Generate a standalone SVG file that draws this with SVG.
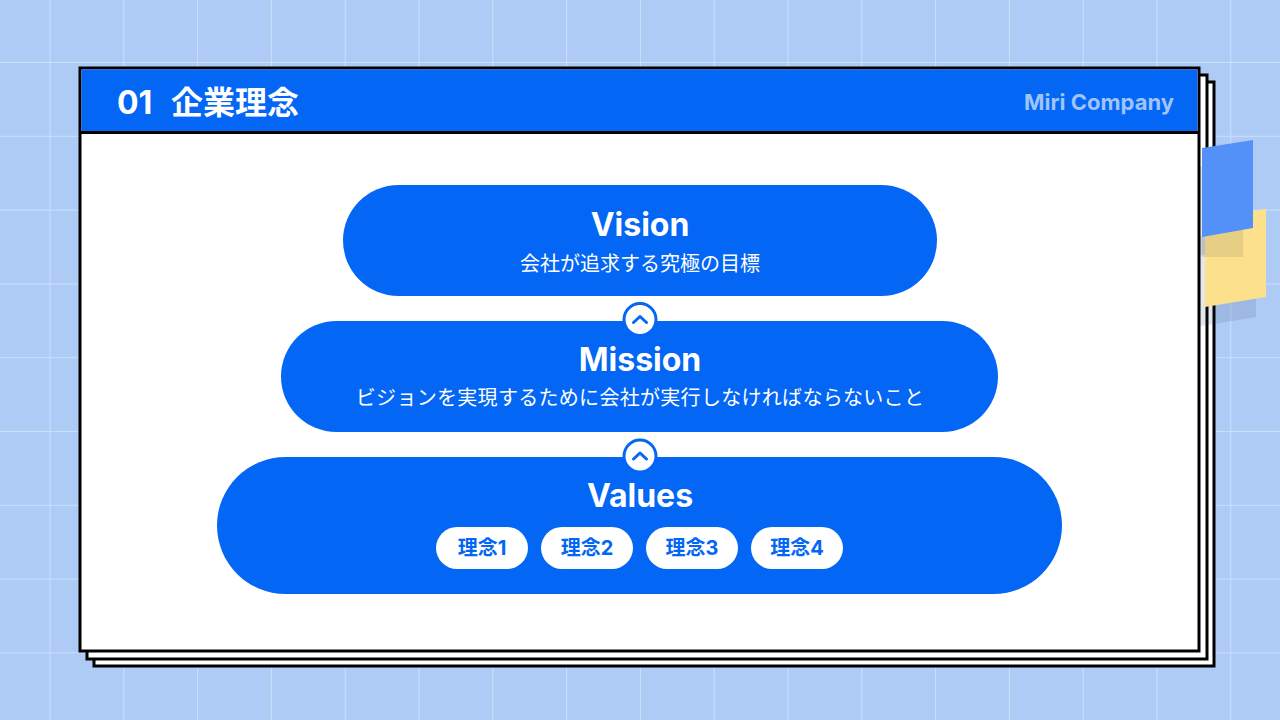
<svg xmlns="http://www.w3.org/2000/svg" width="1280" height="720" viewBox="0 0 1280 720">
  <defs>
    <pattern id="grid" x="49.5" y="62" width="73.8" height="73.8" patternUnits="userSpaceOnUse">
      <path d="M0 0 H73.8 M0 0 V73.8" stroke="#d6e6fb" stroke-width="1.5" fill="none"/>
    </pattern>
    <style>
      .card { fill: #ffffff; stroke: #000000; stroke-width: 3; }
      .pill { fill: #0366f5; }
      .title { font-family: Inter, "Noto Sans", "Noto Sans CJK JP", sans-serif; font-weight: 700; font-size: 32px; fill: #ffffff; text-anchor: middle; }
      .sub { font-family: "Noto Sans CJK JP", sans-serif; font-weight: 400; font-size: 20px; fill: #ffffff; text-anchor: middle; }
      .tag { fill: #ffffff; }
      .tagtxt { font-family: Inter, "Noto Sans CJK JP", sans-serif; font-weight: 700; font-size: 20px; fill: #0366f5; text-anchor: middle; }
      .conn-circle { fill: #ffffff; stroke: #0366f5; stroke-width: 3; }
      .chev { fill: none; stroke: #0366f5; stroke-width: 3; stroke-linecap: round; stroke-linejoin: round; }
    </style>
  </defs>

  <!-- background -->
  <rect width="1280" height="720" fill="#aecbf6"/>
  <rect width="1280" height="720" fill="url(#grid)"/>

  <!-- back cards -->
  <rect class="card" x="94" y="82" width="1120" height="584"/>
  <rect class="card" x="87" y="75" width="1120" height="584"/>

  <!-- sticky notes -->
  <g id="notes">
    <polygon points="1192,168 1243,160 1243,248 1192,257" fill="#20305a" opacity="0.12"/>
    <polygon points="1195,237 1256,229 1256,317 1195,327" fill="#20305a" opacity="0.12"/>
    <polygon points="1205,217 1266,209 1266,297 1205,307" fill="#fde08b"/>
    <polygon points="1202,234 1243,228 1243,257 1202,257" fill="#20305a" opacity="0.1"/>
    <polygon points="1202,148 1253,140 1253,228 1202,237" fill="#5390f7"/>
  </g>

  <!-- main card -->
  <g id="card">
    <rect class="card" x="80" y="68" width="1119" height="583"/>
    <rect x="81.5" y="69.5" width="1116" height="63" fill="#0366f5"/>
    <line x1="80" y1="132.5" x2="1199" y2="132.5" stroke="#000000" stroke-width="3"/>
    <text y="114" font-family="Inter, 'Noto Sans CJK JP', sans-serif" font-weight="700" font-size="32" fill="#ffffff"><tspan x="117">01</tspan><tspan x="171">企業理念</tspan></text>
    <text x="1174" y="110" font-family="Inter, 'Noto Sans', sans-serif" font-weight="700" font-size="22" fill="#9fc4fb" text-anchor="end">Miri Company</text>
  </g>

  <g id="vision">
    <rect class="pill" x="343" y="185" width="594" height="111" rx="55.5"/>
    <text class="title" x="640" y="236">Vision</text>
    <text class="sub" x="640" y="271">会社が追求する究極の目標</text>
  </g>

  <g id="mission">
    <rect class="pill" x="281" y="321" width="717" height="111" rx="55.5"/>
    <text class="title" x="640" y="371">Mission</text>
    <text class="sub" x="640" y="405" letter-spacing="0.3">ビジョンを実現するために会社が実行しなければならないこと</text>
  </g>

  <g id="values">
    <rect class="pill" x="217" y="457" width="845" height="137" rx="68.5"/>
    <text class="title" x="640" y="507">Values</text>
    <g id="tag1">
      <rect class="tag" x="436" y="527" width="92" height="42" rx="21"/>
      <text class="tagtxt" x="482" y="555">理念1</text>
    </g>
    <g id="tag2">
      <rect class="tag" x="541" y="527" width="92" height="42" rx="21"/>
      <text class="tagtxt" x="587" y="555">理念2</text>
    </g>
    <g id="tag3">
      <rect class="tag" x="646" y="527" width="92" height="42" rx="21"/>
      <text class="tagtxt" x="692" y="555">理念3</text>
    </g>
    <g id="tag4">
      <rect class="tag" x="751" y="527" width="92" height="42" rx="21"/>
      <text class="tagtxt" x="797" y="555">理念4</text>
    </g>
  </g>

  <!-- connectors -->
  <g id="connectors">
    <circle class="conn-circle" cx="640" cy="319.5" r="16"/>
    <polyline class="chev" points="633.5,322.5 640,316.5 646.5,322.5"/>
    <circle class="conn-circle" cx="640" cy="456" r="16"/>
    <polyline class="chev" points="633.5,459 640,453 646.5,459"/>
  </g>
</svg>
